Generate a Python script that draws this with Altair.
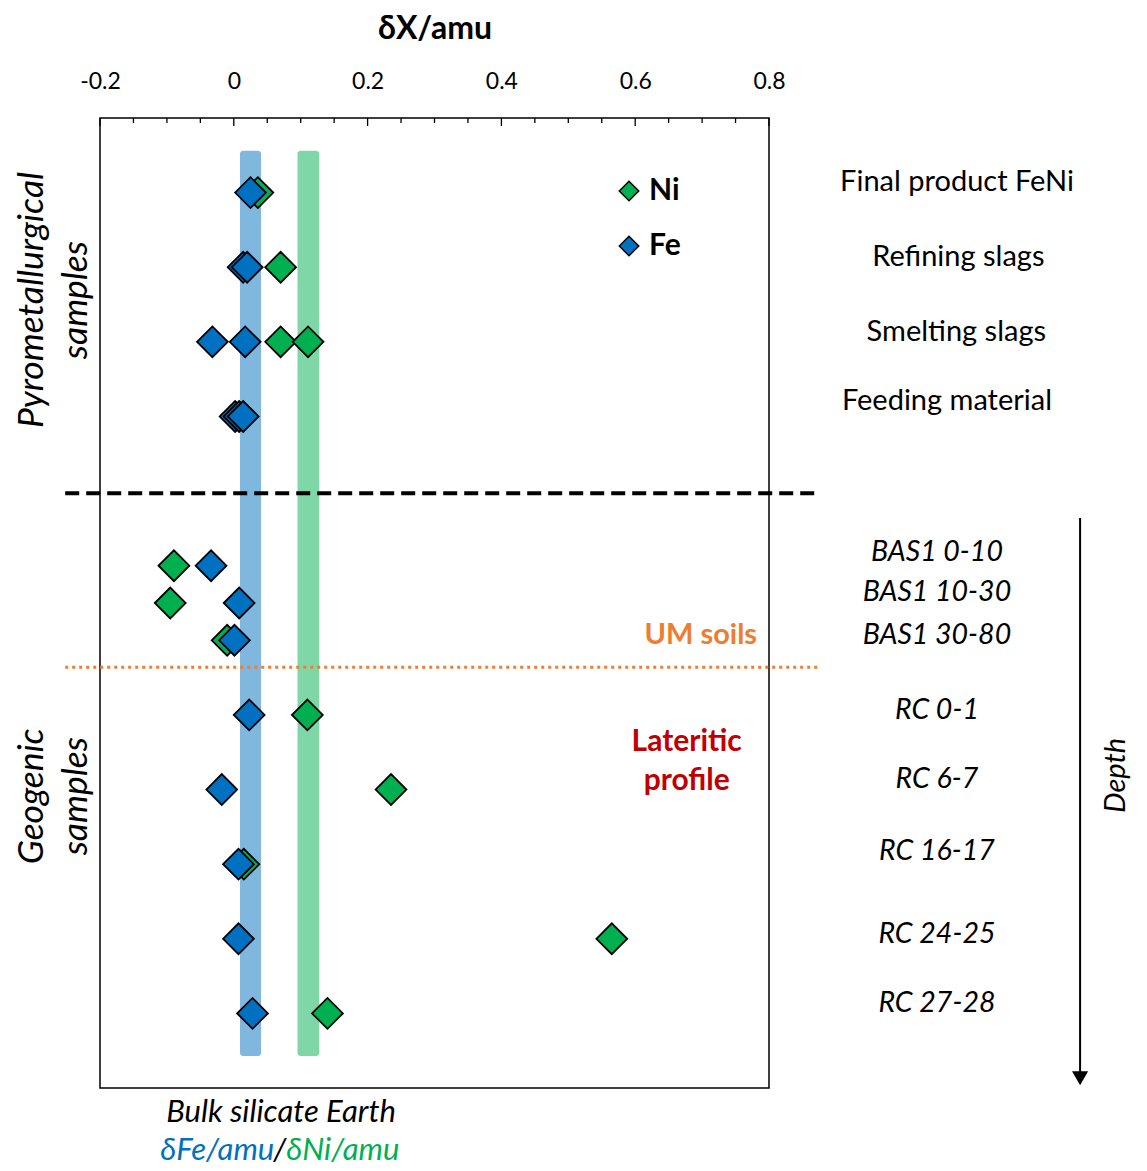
import altair as alt
import pandas as pd

FONT = "Lato"
FE_COL = "#0070C0"
NI_COL = "#00B050"

# ---- axis ticks ----
x_major = [-0.2, 0, 0.2, 0.4, 0.6, 0.8]
x_minor = [-0.15, -0.1, -0.05, 0.05, 0.1, 0.15, 0.25, 0.3, 0.35, 0.45, 0.5, 0.55, 0.65, 0.7, 0.75]

# ---- rows (y position in row units, 0 = top) ----
samples = ["Final product FeNi", "Refining slags", "Smelting slags", "Feeding material",
           "BAS1 0-10", "BAS1 10-30", "BAS1 30-80",
           "RC 0-1", "RC 6-7", "RC 16-17", "RC 24-25", "RC 27-28"]
sample_row = [1, 2, 3, 4, 6, 6.5, 7, 8, 9, 10, 11, 12]
label_row = [0.86, 1.86, 2.87, 3.79, 5.82, 6.35, 6.93, 7.94, 8.86, 9.83, 10.93, 11.86]
label_x = [1.081, 1.083, 1.080, 1.066, 1.051, 1.051, 1.051, 1.051, 1.051, 1.051, 1.051, 1.051]
label_italic = [False, False, False, False, True, True, True, True, True, True, True, True]

# ---- measured delta values ----
fe_sample = ["Final product FeNi", "Refining slags", "Refining slags", "Smelting slags", "Smelting slags",
             "Feeding material", "Feeding material", "Feeding material",
             "BAS1 0-10", "BAS1 10-30", "BAS1 30-80",
             "RC 0-1", "RC 6-7", "RC 16-17", "RC 24-25", "RC 27-28"]
fe_value = [0.025, 0.014, 0.020, -0.032, 0.017,
            0.002, 0.008, 0.014,
            -0.034, 0.008, 0.001,
            0.023, -0.018, 0.007, 0.007, 0.028]
ni_sample = ["Final product FeNi", "Refining slags", "Smelting slags", "Smelting slags",
             "BAS1 0-10", "BAS1 10-30", "BAS1 30-80",
             "RC 0-1", "RC 6-7", "RC 16-17", "RC 24-25", "RC 27-28"]
ni_value = [0.036, 0.070, 0.070, 0.111,
            -0.0895, -0.095, -0.010,
            0.110, 0.235, 0.015, 0.565, 0.140]

# ---- bulk silicate Earth bands ----
bse_fe = [0.0093, 0.0407]
bse_ni = [0.0952, 0.1278]
band_rows = [0.44, 12.57]

row_of = dict(zip(samples, sample_row))
pts = pd.DataFrame(
    [{"sample": s, "element": "Ni", "value": v, "row": row_of[s]} for s, v in zip(ni_sample, ni_value)] +
    [{"sample": s, "element": "Fe", "value": v, "row": row_of[s]} for s, v in zip(fe_sample, fe_value)]
)

xs = alt.Scale(domain=[-0.2, 0.8], nice=False, zero=False)
ys = alt.Scale(domain=[0, 13], nice=False, zero=False, reverse=True)

XAXIS = alt.Axis(orient="top", values=x_major, title="δX/amu", grid=False, ticks=False,
                 tickSize=0, domain=False, labelFlush=False,
                 labelExpr="datum.value < 0 ? '-' + format(-datum.value, '~g') : format(datum.value, '~g')",
                 labelFontSize=23, labelFont=FONT, labelColor="black", labelPadding=25,
                 titleFontSize=32, titleFont=FONT, titleFontWeight="bold", titleColor="black",
                 titlePadding=25)


def X(field):
    return alt.X(field, type="quantitative", scale=xs, axis=XAXIS)


def Y(field):
    return alt.Y(field, type="quantitative", scale=ys, axis=None)


bands = pd.DataFrame({"x": [bse_fe[0], bse_ni[0]], "x2": [bse_fe[1], bse_ni[1]],
                      "y": [band_rows[0]] * 2, "y2": [band_rows[1]] * 2, "el": ["Fe", "Ni"]})
band_fe = alt.Chart(bands[bands.el == "Fe"]).mark_rect(color=FE_COL, opacity=0.5, cornerRadius=3).encode(
    x=X("x"), x2="x2", y=Y("y"), y2="y2")
band_ni = alt.Chart(bands[bands.el == "Ni"]).mark_rect(color=NI_COL, opacity=0.5, cornerRadius=3).encode(
    x=X("x"), x2="x2", y=Y("y"), y2="y2")

ticks_major = alt.Chart(pd.DataFrame({"t": x_major})).mark_rule(color="black", strokeWidth=1.3).encode(
    x=X("t"), y=alt.value(0), y2=alt.value(8))
ticks_minor = alt.Chart(pd.DataFrame({"t": x_minor})).mark_rule(color="black", strokeWidth=1.3).encode(
    x=X("t"), y=alt.value(0), y2=alt.value(5))

sep = pd.DataFrame({"x": [-0.252], "x2": [0.876], "y": [5.03]})
dashed = alt.Chart(sep).mark_rule(color="black", strokeWidth=4, strokeDash=[14, 7]).encode(
    x=X("x"), x2="x2", y=Y("y"))
um = pd.DataFrame({"x": [-0.252], "x2": [0.876], "y": [7.36]})
dotted = alt.Chart(um).mark_rule(color="#ED7D31", strokeWidth=3, strokeDash=[3, 4]).encode(
    x=X("x"), x2="x2", y=Y("y"))

points = alt.Chart(pts).mark_point(shape="diamond", filled=True, size=950, stroke="black",
                                   strokeWidth=1.8, opacity=1).encode(
    x=alt.X("value:Q", scale=xs, axis=XAXIS),
    y=Y("row"),
    color=alt.Color("element:N", scale=alt.Scale(domain=["Ni", "Fe"], range=[NI_COL, FE_COL]),
                    legend=alt.Legend(title=None, orient="none", legendX=514, legendY=58,
                                      symbolType="diamond", symbolSize=380, symbolStrokeColor="black",
                                      symbolStrokeWidth=1.5,
                                      labelFont=FONT, labelFontSize=30, labelFontWeight="bold",
                                      labelColor="black", labelOffset=5, rowPadding=25,
                                      padding=0)),
    order=alt.Order("element:N", sort="descending"),
)

labels = pd.DataFrame({"label": samples, "row": label_row, "x": label_x, "italic": label_italic})
lab_up = alt.Chart(labels[~labels.italic]).mark_text(font=FONT, fontSize=29, color="black",
                                                     align="center", baseline="middle").encode(
    x=X("x"), y=Y("row"), text="label")
lab_it = alt.Chart(labels[labels.italic]).mark_text(font=FONT, fontSize=28.5, color="black", fontStyle="italic",
                                                    align="center", baseline="middle").encode(
    x=X("x"), y=Y("row"), text="label")

ann = pd.DataFrame({"text": ["UM soils"], "x": [0.698], "row": [6.93]})
um_text = alt.Chart(ann).mark_text(font=FONT, fontSize=29, fontWeight="bold", color="#ED7D31",
                                   align="center", baseline="middle").encode(x=X("x"), y=Y("row"), text="text")
lat = pd.DataFrame({"text": ["Lateritic", "profile"], "x": [0.677, 0.677], "row": [8.36, 8.88]})
lat_text = alt.Chart(lat).mark_text(font=FONT, fontSize=30, fontWeight="bold", color="#C00000",
                                    align="center", baseline="middle").encode(x=X("x"), y=Y("row"), text="text")

side = pd.DataFrame({"text": ["Pyrometallurgical", "samples", "Geogenic", "samples"],
                     "x": [-0.301, -0.236, -0.301, -0.236], "row": [2.44, 2.44, 9.09, 9.09]})
side_text = alt.Chart(side).mark_text(font=FONT, fontSize=35.5, fontStyle="italic", color="black", angle=270,
                                      align="center", baseline="middle").encode(x=X("x"), y=Y("row"), text="text")

depth_line = alt.Chart(pd.DataFrame({"x": [1.265], "y": [5.36], "y2": [12.85]})).mark_rule(
    color="black", strokeWidth=2).encode(x=X("x"), y=Y("y"), y2="y2")
depth_head = alt.Chart(pd.DataFrame({"x": [1.265], "y": [12.87]})).mark_point(
    shape="triangle-down", filled=True, color="black", size=260, opacity=1).encode(x=X("x"), y=Y("y"))
depth_text = alt.Chart(pd.DataFrame({"text": ["Depth"], "x": [1.318], "row": [8.81]})).mark_text(
    font=FONT, fontSize=29, fontStyle="italic", color="black", angle=270, align="center",
    baseline="middle").encode(x=X("x"), y=Y("row"), text="text")

bse_t = pd.DataFrame({"text": ["Bulk silicate Earth"], "x": [0.0706], "row": [13.34]})
bse_text = alt.Chart(bse_t).mark_text(font=FONT, fontSize=31, fontStyle="italic", color="black",
                                      align="center", baseline="middle").encode(x=X("x"), y=Y("row"), text="text")
fe_t = alt.Chart(pd.DataFrame({"text": ["δFe/amu"], "x": [0.0605], "row": [13.85]})).mark_text(
    font=FONT, fontSize=31, fontStyle="italic", color=FE_COL, align="right", baseline="middle").encode(
    x=X("x"), y=Y("row"), text="text")
sl_t = alt.Chart(pd.DataFrame({"text": ["/"], "x": [0.0688], "row": [13.85]})).mark_text(
    font=FONT, fontSize=31, fontStyle="italic", color="black", align="center", baseline="middle").encode(
    x=X("x"), y=Y("row"), text="text")
ni_t = alt.Chart(pd.DataFrame({"text": ["δNi/amu"], "x": [0.0785], "row": [13.85]})).mark_text(
    font=FONT, fontSize=31, fontStyle="italic", color=NI_COL, align="left", baseline="middle").encode(
    x=X("x"), y=Y("row"), text="text")

chart = alt.layer(
    band_fe, band_ni, ticks_minor, ticks_major, dashed, dotted, points,
    lab_up, lab_it, um_text, lat_text, side_text, depth_line, depth_head, depth_text,
    bse_text, fe_t, sl_t, ni_t,
).properties(
    width=669, height=970,
    autosize=alt.AutoSizeParams(type="none"),
    padding={"left": 92, "top": 110, "right": 362, "bottom": 78},
).configure(font=FONT).configure_view(stroke="black", strokeWidth=1.5)

chart.save("out.html", embed_options={"renderer": "svg", "actions": False})
